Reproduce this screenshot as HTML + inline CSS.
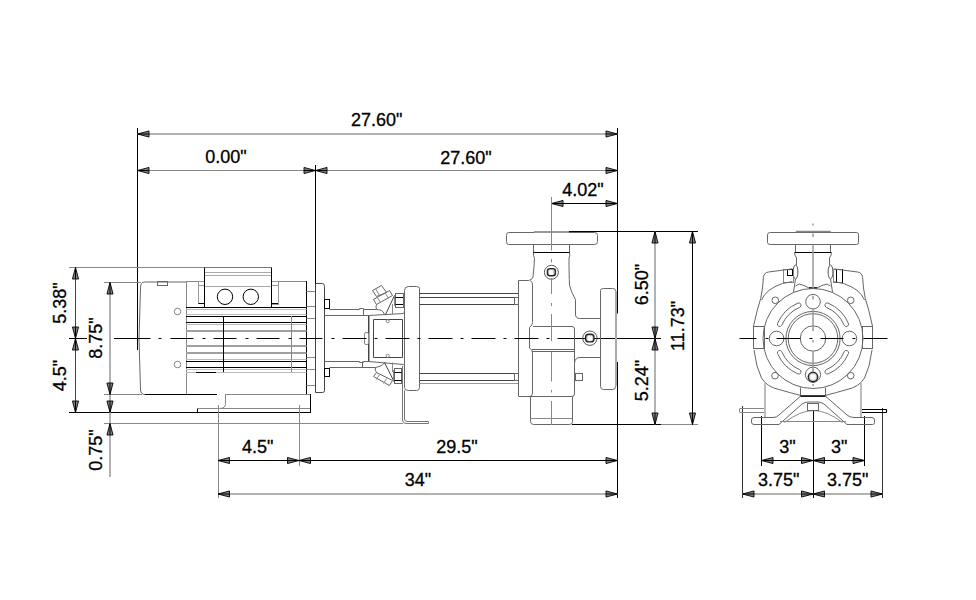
<!DOCTYPE html>
<html><head><meta charset="utf-8"><style>
html,body{margin:0;padding:0;background:#fff;}
svg{display:block;}
text{font-family:"Liberation Sans",sans-serif;font-size:18px;fill:#000;stroke:#000;stroke-width:0.3px;}
</style></head><body>
<svg width="976" height="600" viewBox="0 0 976 600">
<rect x="0" y="0" width="976" height="600" fill="#fff"/>
<line x1="137.5" y1="128" x2="137.5" y2="350" stroke="#000" stroke-width="1" />
<line x1="617.5" y1="128" x2="617.5" y2="313.5" stroke="#000" stroke-width="1" />
<line x1="617.5" y1="362" x2="617.5" y2="498" stroke="#000" stroke-width="1" />
<line x1="315.5" y1="165" x2="315.5" y2="284" stroke="#000" stroke-width="1" />
<line x1="137.5" y1="134" x2="617.5" y2="134" stroke="#b2b2b2" stroke-width="2" />
<polygon points="137.50,134.00 149.00,130.95 149.00,137.05" fill="#808080" stroke="#000" stroke-width="0.9"/>
<line x1="137.5" y1="134" x2="149.00" y2="134.00" stroke="#000" stroke-width="1"/>
<polygon points="617.50,134.00 606.00,130.95 606.00,137.05" fill="#808080" stroke="#000" stroke-width="0.9"/>
<line x1="617.5" y1="134" x2="606.00" y2="134.00" stroke="#000" stroke-width="1"/>
<text x="376.7" y="126" text-anchor="middle">27.60&quot;</text>
<line x1="137.5" y1="170.5" x2="617.5" y2="170.5" stroke="#888" stroke-width="1" />
<polygon points="137.50,170.50 149.00,167.45 149.00,173.55" fill="#808080" stroke="#000" stroke-width="0.9"/>
<line x1="137.5" y1="170.5" x2="149.00" y2="170.50" stroke="#000" stroke-width="1"/>
<polygon points="315.50,170.50 304.00,167.45 304.00,173.55" fill="#808080" stroke="#000" stroke-width="0.9"/>
<line x1="315.5" y1="170.5" x2="304.00" y2="170.50" stroke="#000" stroke-width="1"/>
<polygon points="315.50,170.50 327.00,167.45 327.00,173.55" fill="#808080" stroke="#000" stroke-width="0.9"/>
<line x1="315.5" y1="170.5" x2="327.00" y2="170.50" stroke="#000" stroke-width="1"/>
<polygon points="617.50,170.50 606.00,167.45 606.00,173.55" fill="#808080" stroke="#000" stroke-width="0.9"/>
<line x1="617.5" y1="170.5" x2="606.00" y2="170.50" stroke="#000" stroke-width="1"/>
<text x="226" y="163" text-anchor="middle">0.00&quot;</text>
<text x="466" y="163.5" text-anchor="middle">27.60&quot;</text>
<line x1="551.5" y1="203.5" x2="617.5" y2="203.5" stroke="#000" stroke-width="1" />
<polygon points="551.50,203.50 563.00,200.45 563.00,206.55" fill="#808080" stroke="#000" stroke-width="0.9"/>
<line x1="551.5" y1="203.5" x2="563.00" y2="203.50" stroke="#000" stroke-width="1"/>
<polygon points="617.50,203.50 606.00,200.45 606.00,206.55" fill="#808080" stroke="#000" stroke-width="0.9"/>
<line x1="617.5" y1="203.5" x2="606.00" y2="203.50" stroke="#000" stroke-width="1"/>
<text x="583" y="196" text-anchor="middle">4.02&quot;</text>
<line x1="69" y1="267.5" x2="205" y2="267.5" stroke="#888" stroke-width="1" />
<line x1="104" y1="282.5" x2="141" y2="282.5" stroke="#888" stroke-width="1" />
<line x1="69" y1="338.5" x2="87" y2="338.5" stroke="#000" stroke-width="1" />
<line x1="104" y1="394.5" x2="142" y2="394.5" stroke="#888" stroke-width="1" />
<line x1="69" y1="412.5" x2="311" y2="412.5" stroke="#000" stroke-width="1" />
<line x1="104" y1="423.5" x2="403" y2="423.5" stroke="#888" stroke-width="1" />
<line x1="75.5" y1="267.5" x2="75.5" y2="412.5" stroke="#444" stroke-width="1" />
<polygon points="75.50,267.50 72.45,279.00 78.55,279.00" fill="#808080" stroke="#000" stroke-width="0.9"/>
<line x1="75.5" y1="267.5" x2="75.50" y2="279.00" stroke="#000" stroke-width="1"/>
<polygon points="75.50,338.50 72.45,327.00 78.55,327.00" fill="#808080" stroke="#000" stroke-width="0.9"/>
<line x1="75.5" y1="338.5" x2="75.50" y2="327.00" stroke="#000" stroke-width="1"/>
<polygon points="75.50,338.50 72.45,350.00 78.55,350.00" fill="#808080" stroke="#000" stroke-width="0.9"/>
<line x1="75.5" y1="338.5" x2="75.50" y2="350.00" stroke="#000" stroke-width="1"/>
<polygon points="75.50,412.50 72.45,401.00 78.55,401.00" fill="#808080" stroke="#000" stroke-width="0.9"/>
<line x1="75.5" y1="412.5" x2="75.50" y2="401.00" stroke="#000" stroke-width="1"/>
<line x1="110" y1="282.5" x2="110" y2="477" stroke="#b2b2b2" stroke-width="2" />
<polygon points="110.00,282.50 106.95,294.00 113.05,294.00" fill="#808080" stroke="#000" stroke-width="0.9"/>
<line x1="110" y1="282.5" x2="110.00" y2="294.00" stroke="#000" stroke-width="1"/>
<polygon points="110.00,394.50 106.95,383.00 113.05,383.00" fill="#808080" stroke="#000" stroke-width="0.9"/>
<line x1="110" y1="394.5" x2="110.00" y2="383.00" stroke="#000" stroke-width="1"/>
<polygon points="110.00,412.50 106.95,401.00 113.05,401.00" fill="#808080" stroke="#000" stroke-width="0.9"/>
<line x1="110" y1="412.5" x2="110.00" y2="401.00" stroke="#000" stroke-width="1"/>
<polygon points="110.00,423.50 106.95,435.00 113.05,435.00" fill="#808080" stroke="#000" stroke-width="0.9"/>
<line x1="110" y1="423.5" x2="110.00" y2="435.00" stroke="#000" stroke-width="1"/>
<text x="0" y="0" transform="translate(65.6,303) rotate(-90)" text-anchor="middle">5.38&quot;</text>
<text x="0" y="0" transform="translate(65.6,375.5) rotate(-90)" text-anchor="middle">4.5&quot;</text>
<text x="0" y="0" transform="translate(102.4,338) rotate(-90)" text-anchor="middle">8.75&quot;</text>
<text x="0" y="0" transform="translate(102.4,450) rotate(-90)" text-anchor="middle">0.75&quot;</text>
<line x1="218.5" y1="405" x2="218.5" y2="498" stroke="#888" stroke-width="1" />
<line x1="299.5" y1="405" x2="299.5" y2="466" stroke="#888" stroke-width="1" />
<line x1="218" y1="460.5" x2="617.5" y2="460.5" stroke="#000" stroke-width="1" />
<polygon points="218.00,460.50 229.50,457.45 229.50,463.55" fill="#808080" stroke="#000" stroke-width="0.9"/>
<line x1="218" y1="460.5" x2="229.50" y2="460.50" stroke="#000" stroke-width="1"/>
<polygon points="299.00,460.50 287.50,457.45 287.50,463.55" fill="#808080" stroke="#000" stroke-width="0.9"/>
<line x1="299" y1="460.5" x2="287.50" y2="460.50" stroke="#000" stroke-width="1"/>
<polygon points="299.00,460.50 310.50,457.45 310.50,463.55" fill="#808080" stroke="#000" stroke-width="0.9"/>
<line x1="299" y1="460.5" x2="310.50" y2="460.50" stroke="#000" stroke-width="1"/>
<polygon points="617.50,460.50 606.00,457.45 606.00,463.55" fill="#808080" stroke="#000" stroke-width="0.9"/>
<line x1="617.5" y1="460.5" x2="606.00" y2="460.50" stroke="#000" stroke-width="1"/>
<line x1="218" y1="494" x2="617.5" y2="494" stroke="#b2b2b2" stroke-width="2" />
<polygon points="218.00,494.00 229.50,490.95 229.50,497.05" fill="#808080" stroke="#000" stroke-width="0.9"/>
<line x1="218" y1="494" x2="229.50" y2="494.00" stroke="#000" stroke-width="1"/>
<polygon points="617.50,494.00 606.00,490.95 606.00,497.05" fill="#808080" stroke="#000" stroke-width="0.9"/>
<line x1="617.5" y1="494" x2="606.00" y2="494.00" stroke="#000" stroke-width="1"/>
<text x="257.8" y="453.2" text-anchor="middle">4.5&quot;</text>
<text x="457" y="452.6" text-anchor="middle">29.5&quot;</text>
<text x="418" y="485.6" text-anchor="middle">34&quot;</text>
<line x1="534" y1="231.5" x2="698" y2="231.5" stroke="#000" stroke-width="1" />
<line x1="558" y1="338.5" x2="661" y2="338.5" stroke="#000" stroke-width="1" />
<line x1="572" y1="424.5" x2="661" y2="424.5" stroke="#000" stroke-width="1" />
<line x1="661" y1="424.5" x2="698" y2="424.5" stroke="#888" stroke-width="1" />
<line x1="655" y1="231.5" x2="655" y2="424.5" stroke="#b2b2b2" stroke-width="2" />
<polygon points="655.00,231.50 651.95,243.00 658.05,243.00" fill="#808080" stroke="#000" stroke-width="0.9"/>
<line x1="655" y1="231.5" x2="655.00" y2="243.00" stroke="#000" stroke-width="1"/>
<polygon points="655.00,338.50 651.95,327.00 658.05,327.00" fill="#808080" stroke="#000" stroke-width="0.9"/>
<line x1="655" y1="338.5" x2="655.00" y2="327.00" stroke="#000" stroke-width="1"/>
<polygon points="655.00,338.50 651.95,350.00 658.05,350.00" fill="#808080" stroke="#000" stroke-width="0.9"/>
<line x1="655" y1="338.5" x2="655.00" y2="350.00" stroke="#000" stroke-width="1"/>
<polygon points="655.00,424.50 651.95,413.00 658.05,413.00" fill="#808080" stroke="#000" stroke-width="0.9"/>
<line x1="655" y1="424.5" x2="655.00" y2="413.00" stroke="#000" stroke-width="1"/>
<line x1="692.5" y1="231.5" x2="692.5" y2="424.5" stroke="#000" stroke-width="1" />
<polygon points="692.50,231.50 689.45,243.00 695.55,243.00" fill="#808080" stroke="#000" stroke-width="0.9"/>
<line x1="692.5" y1="231.5" x2="692.50" y2="243.00" stroke="#000" stroke-width="1"/>
<polygon points="692.50,424.50 689.45,413.00 695.55,413.00" fill="#808080" stroke="#000" stroke-width="0.9"/>
<line x1="692.5" y1="424.5" x2="692.50" y2="413.00" stroke="#000" stroke-width="1"/>
<text x="0" y="0" transform="translate(647.5,284.5) rotate(-90)" text-anchor="middle">6.50&quot;</text>
<text x="0" y="0" transform="translate(647.5,380.5) rotate(-90)" text-anchor="middle">5.24&quot;</text>
<text x="0" y="0" transform="translate(684,326) rotate(-90)" text-anchor="middle">11.73&quot;</text>
<line x1="742.5" y1="406" x2="742.5" y2="498" stroke="#333" stroke-width="1" />
<line x1="761.5" y1="416" x2="761.5" y2="466" stroke="#000" stroke-width="1" />
<line x1="813.5" y1="410.5" x2="813.5" y2="498" stroke="#000" stroke-width="1" />
<line x1="864.5" y1="416" x2="864.5" y2="466" stroke="#000" stroke-width="1" />
<line x1="882.5" y1="408" x2="882.5" y2="498" stroke="#333" stroke-width="1" />
<line x1="761.5" y1="460.5" x2="864.5" y2="460.5" stroke="#000" stroke-width="1" />
<polygon points="761.50,460.50 773.00,457.45 773.00,463.55" fill="#808080" stroke="#000" stroke-width="0.9"/>
<line x1="761.5" y1="460.5" x2="773.00" y2="460.50" stroke="#000" stroke-width="1"/>
<polygon points="813.00,460.50 801.50,457.45 801.50,463.55" fill="#808080" stroke="#000" stroke-width="0.9"/>
<line x1="813" y1="460.5" x2="801.50" y2="460.50" stroke="#000" stroke-width="1"/>
<polygon points="813.00,460.50 824.50,457.45 824.50,463.55" fill="#808080" stroke="#000" stroke-width="0.9"/>
<line x1="813" y1="460.5" x2="824.50" y2="460.50" stroke="#000" stroke-width="1"/>
<polygon points="864.50,460.50 853.00,457.45 853.00,463.55" fill="#808080" stroke="#000" stroke-width="0.9"/>
<line x1="864.5" y1="460.5" x2="853.00" y2="460.50" stroke="#000" stroke-width="1"/>
<line x1="742.5" y1="494" x2="882.5" y2="494" stroke="#b2b2b2" stroke-width="2" />
<polygon points="742.50,494.00 754.00,490.95 754.00,497.05" fill="#808080" stroke="#000" stroke-width="0.9"/>
<line x1="742.5" y1="494" x2="754.00" y2="494.00" stroke="#000" stroke-width="1"/>
<polygon points="813.00,494.00 801.50,490.95 801.50,497.05" fill="#808080" stroke="#000" stroke-width="0.9"/>
<line x1="813" y1="494" x2="801.50" y2="494.00" stroke="#000" stroke-width="1"/>
<polygon points="813.00,494.00 824.50,490.95 824.50,497.05" fill="#808080" stroke="#000" stroke-width="0.9"/>
<line x1="813" y1="494" x2="824.50" y2="494.00" stroke="#000" stroke-width="1"/>
<polygon points="882.50,494.00 871.00,490.95 871.00,497.05" fill="#808080" stroke="#000" stroke-width="0.9"/>
<line x1="882.5" y1="494" x2="871.00" y2="494.00" stroke="#000" stroke-width="1"/>
<text x="787.5" y="452.8" text-anchor="middle">3&quot;</text>
<text x="839.2" y="452.8" text-anchor="middle">3&quot;</text>
<text x="778.7" y="485.9" text-anchor="middle">3.75&quot;</text>
<text x="847.6" y="485.9" text-anchor="middle">3.75&quot;</text>
<path d="M186 282 H144.5 Q140.5 282 140.5 288 Q137.5 338 140.5 390 Q141 394.5 145 394.5" stroke="#666" stroke-width="1" fill="none" />
<line x1="145" y1="394.5" x2="186" y2="394.5" stroke="#000" stroke-width="1" />
<rect x="157.5" y="281.5" width="10.0" height="4.0" rx="0" stroke="#666" stroke-width="1" fill="none"/>
<circle cx="177.5" cy="311.5" r="3.3" stroke="#888" stroke-width="1" fill="none"/>
<circle cx="177.5" cy="364.5" r="3.3" stroke="#888" stroke-width="1" fill="none"/>
<line x1="186.5" y1="282" x2="186.5" y2="394" stroke="#888" stroke-width="1" />
<line x1="186" y1="281.5" x2="204.5" y2="281.5" stroke="#888" stroke-width="1" />
<line x1="271.5" y1="281.5" x2="306.5" y2="281.5" stroke="#888" stroke-width="1" />
<line x1="306.5" y1="281" x2="306.5" y2="394" stroke="#000" stroke-width="1" />
<line x1="186" y1="394.5" x2="217" y2="394.5" stroke="#000" stroke-width="1" />
<line x1="225" y1="394.5" x2="310.5" y2="394.5" stroke="#888" stroke-width="1" />
<line x1="205" y1="272.5" x2="271" y2="272.5" stroke="#aaa" stroke-width="1" />
<line x1="205" y1="275.5" x2="271" y2="275.5" stroke="#aaa" stroke-width="1" />
<line x1="205" y1="286.5" x2="271" y2="286.5" stroke="#aaa" stroke-width="1" />
<rect x="198.5" y="281.5" width="6.0" height="22.0" rx="0" stroke="#999" stroke-width="1" fill="none"/>
<line x1="198.5" y1="303.5" x2="204.5" y2="303.5" stroke="#000" stroke-width="1" />
<rect x="198.5" y="281.5" width="6.0" height="4.0" rx="0" stroke="#999" stroke-width="1" fill="none"/>
<rect x="271.5" y="281.5" width="7.0" height="23.0" rx="0" stroke="#999" stroke-width="1" fill="none"/>
<line x1="271.5" y1="303.5" x2="278" y2="303.5" stroke="#000" stroke-width="1" />
<rect x="271.5" y="281.5" width="7.0" height="4.0" rx="0" stroke="#999" stroke-width="1" fill="none"/>
<line x1="204.5" y1="267.5" x2="271.5" y2="267.5" stroke="#777" stroke-width="1" />
<line x1="204.5" y1="267.5" x2="204.5" y2="307.5" stroke="#000" stroke-width="1" />
<line x1="271.5" y1="267.5" x2="271.5" y2="307.5" stroke="#000" stroke-width="1" />
<line x1="204.5" y1="307.5" x2="271.5" y2="307.5" stroke="#000" stroke-width="1" />
<circle cx="225" cy="296.8" r="7.7" stroke="#000" stroke-width="1" fill="none"/>
<circle cx="250.8" cy="296.8" r="7.7" stroke="#000" stroke-width="1" fill="none"/>
<line x1="186" y1="307.5" x2="306.5" y2="307.5" stroke="#000" stroke-width="1" />
<line x1="186" y1="316.5" x2="306.5" y2="316.5" stroke="#000" stroke-width="1" />
<line x1="186" y1="322.5" x2="306.5" y2="322.5" stroke="#000" stroke-width="1" />
<line x1="186" y1="361.5" x2="306.5" y2="361.5" stroke="#000" stroke-width="1" />
<line x1="186" y1="367.5" x2="306.5" y2="367.5" stroke="#000" stroke-width="1" />
<line x1="186" y1="309.5" x2="306.5" y2="309.5" stroke="#bbb" stroke-width="1" />
<line x1="186" y1="314.5" x2="306.5" y2="314.5" stroke="#bbb" stroke-width="1" />
<line x1="186" y1="324.5" x2="306.5" y2="324.5" stroke="#bbb" stroke-width="1" />
<line x1="186" y1="359.5" x2="306.5" y2="359.5" stroke="#bbb" stroke-width="1" />
<line x1="186" y1="369.5" x2="306.5" y2="369.5" stroke="#bbb" stroke-width="1" />
<line x1="186" y1="372.5" x2="306.5" y2="372.5" stroke="#bbb" stroke-width="1" />
<line x1="186" y1="331" x2="306.5" y2="331" stroke="#a0a0a0" stroke-width="2" />
<line x1="186" y1="346" x2="306.5" y2="346" stroke="#a0a0a0" stroke-width="2" />
<line x1="186" y1="353" x2="306.5" y2="353" stroke="#a0a0a0" stroke-width="2" />
<line x1="196" y1="372.5" x2="216" y2="372.5" stroke="#000" stroke-width="1" />
<line x1="223.5" y1="316" x2="223.5" y2="372" stroke="#000" stroke-width="1" />
<line x1="291.5" y1="316" x2="291.5" y2="372" stroke="#888" stroke-width="1" />
<line x1="306.5" y1="291.5" x2="315.5" y2="291.5" stroke="#888" stroke-width="1" />
<line x1="306.5" y1="306.5" x2="315.5" y2="306.5" stroke="#888" stroke-width="1" />
<line x1="306.5" y1="318.5" x2="315.5" y2="318.5" stroke="#888" stroke-width="1" />
<line x1="306.5" y1="357.5" x2="315.5" y2="357.5" stroke="#888" stroke-width="1" />
<line x1="306.5" y1="369.5" x2="315.5" y2="369.5" stroke="#888" stroke-width="1" />
<line x1="306.5" y1="385.5" x2="315.5" y2="385.5" stroke="#888" stroke-width="1" />
<path d="M315.5 283.5 H322.5 Q324.5 283.5 324.5 286.5 V390.5 Q324.5 392.5 322.5 392.5 H315.5 Z" stroke="#444" stroke-width="1" fill="none" />
<rect x="324.5" y="299.5" width="5.0" height="9.0" rx="0" stroke="#000" stroke-width="1" fill="none"/>
<rect x="324.5" y="368.5" width="5.0" height="8.0" rx="0" stroke="#000" stroke-width="1" fill="none"/>
<path d="M225.5 394.5 V403.5 Q225.5 408.5 219.5 408.5 H310.5" stroke="#888" stroke-width="1" fill="none" />
<path d="M197.5 408.5 V412.5" stroke="#000" stroke-width="1" fill="none" />
<line x1="197.5" y1="408.5" x2="219.5" y2="408.5" stroke="#888" stroke-width="1" />
<line x1="310.5" y1="394" x2="310.5" y2="412.5" stroke="#000" stroke-width="1" />
<path d="M329.5 309.5 H359.5 V308.5 H363.5 V309.5 H376.5 Q379.5 309.5 381.5 310.5 Q383.5 311.5 384.5 314.5" stroke="#666" stroke-width="1" fill="none" />
<path d="M324.5 315.5 H368.5 L403.5 313.5 Q404.5 312.5 404.5 310.5" stroke="#666" stroke-width="1" fill="none" />
<line x1="363.5" y1="309.5" x2="363.5" y2="315.5" stroke="#666" stroke-width="1" />
<path d="M324.5 361.5 H359.5 V362.5 H363.5 V361.5 H368.5 L403.5 364.5 Q404.5 364.5 404.5 366.5" stroke="#666" stroke-width="1" fill="none" />
<path d="M329.5 367.5 H375.5 Q379.5 366.5 381.5 365.5 Q383.5 364.5 384.5 362.5" stroke="#666" stroke-width="1" fill="none" />
<line x1="362.5" y1="361.5" x2="362.5" y2="367.5" stroke="#666" stroke-width="1" />
<line x1="368.5" y1="315.5" x2="368.5" y2="361.5" stroke="#444" stroke-width="1" />
<line x1="369.5" y1="316" x2="369.5" y2="361" stroke="#aaa" stroke-width="1" />
<path d="M373.5 357.5 V319.5 H402.5 V357.5 Z" stroke="#444" stroke-width="1" fill="none" />
<rect x="364.5" y="332.5" width="4.0" height="12.0" rx="1.5" stroke="#888" stroke-width="1" fill="none"/>
<circle cx="387.7" cy="321.2" r="1.6" stroke="#888" stroke-width="1" fill="none"/>
<circle cx="387.7" cy="355.8" r="1.6" stroke="#888" stroke-width="1" fill="none"/>
<path d="M385.5 314.5 L394.5 295.5" stroke="#444" stroke-width="1" fill="none" />
<line x1="392.5" y1="304" x2="392.5" y2="314" stroke="#888" stroke-width="1" />
<path d="M384.5 362.5 L394.5 382.5" stroke="#444" stroke-width="1" fill="none" />
<line x1="392.5" y1="362.5" x2="392.5" y2="372" stroke="#888" stroke-width="1" />
<path d="M373.5 299.5 L389.5 290.5 L392.5 295.5 L376.5 304.5 Z" stroke="#666" stroke-width="1" fill="none" />
<path d="M377.5 297.5 L380.5 302.5 M385.5 293.5 L388.5 298.5" stroke="#888" stroke-width="1" fill="none" />
<path d="M372.5 290.5 L381.5 285.5 L386.5 292.5 L376.5 296.5 Z" stroke="#666" stroke-width="1" fill="none" />
<path d="M375.5 288.5 L379.5 295.5" stroke="#888" stroke-width="1" fill="none" />
<path d="M376.5 304.5 Q375.5 306.5 376.5 309.5" stroke="#666" stroke-width="1" fill="none" />
<path d="M373.5 376.5 L376.5 372.5 L392.5 380.5 L389.5 385.5 Z" stroke="#666" stroke-width="1" fill="none" />
<path d="M379.5 374.5 L376.5 379.5 M386.5 378.5 L383.5 383.5" stroke="#888" stroke-width="1" fill="none" />
<path d="M375.5 367.5 Q374.5 370.5 376.5 372.5" stroke="#666" stroke-width="1" fill="none" />
<rect x="395.5" y="293.5" width="8.0" height="14.0" rx="0" stroke="#666" stroke-width="1" fill="none"/>
<line x1="395.5" y1="297.5" x2="403" y2="297.5" stroke="#000" stroke-width="1" />
<line x1="395.5" y1="304.5" x2="403" y2="304.5" stroke="#000" stroke-width="1" />
<line x1="394.5" y1="295" x2="394.5" y2="306" stroke="#888" stroke-width="1" />
<rect x="394.5" y="368.5" width="7.0" height="15.0" rx="0" stroke="#666" stroke-width="1" fill="none"/>
<line x1="394.5" y1="372.5" x2="401.5" y2="372.5" stroke="#000" stroke-width="1" />
<line x1="394.5" y1="380.5" x2="401.5" y2="380.5" stroke="#000" stroke-width="1" />
<line x1="393.5" y1="370" x2="393.5" y2="381" stroke="#888" stroke-width="1" />
<path d="M404.5 290.5 Q404.5 286.5 408.5 286.5 H416.5 Q419.5 286.5 419.5 288.5 V387.5 Q419.5 390.5 416.5 390.5 H408.5 Q404.5 390.5 404.5 387.5 Z" stroke="#666" stroke-width="1" fill="none" />
<path d="M402.5 366 V420 Q402.5 423.5 406 423.5 H428.5 V421.5 H407 Q404.5 421.5 404.5 419 V390.5" stroke="#777" stroke-width="1" fill="none" />
<line x1="419.3" y1="293.5" x2="518.5" y2="293.5" stroke="#444" stroke-width="1" />
<line x1="419.3" y1="297.5" x2="518.5" y2="297.5" stroke="#444" stroke-width="1" />
<line x1="419.3" y1="304.5" x2="518.5" y2="304.5" stroke="#444" stroke-width="1" />
<line x1="419.3" y1="373.5" x2="518.5" y2="373.5" stroke="#444" stroke-width="1" />
<line x1="419.3" y1="380.5" x2="518.5" y2="380.5" stroke="#444" stroke-width="1" />
<line x1="419.3" y1="383.5" x2="518.5" y2="383.5" stroke="#999" stroke-width="1" />
<rect x="514.5" y="297.5" width="4.0" height="7.0" rx="0" stroke="#666" stroke-width="1" fill="none"/>
<rect x="514.5" y="373.5" width="4.0" height="7.0" rx="0" stroke="#666" stroke-width="1" fill="none"/>
<path d="M518.5 396 V280.5 H528.5 Q532 280 533 277 Q534 268 534.5 258.5 Q533 255 533.5 252.5" stroke="#666" stroke-width="1" fill="none" />
<path d="M569.5 252.5 Q570.5 255 569 258 Q569 275 569.5 285 Q571 292 575.5 299.5 V314 Q575.5 318.5 579.5 318.5 H600.5" stroke="#666" stroke-width="1" fill="none" />
<line x1="533" y1="252.5" x2="570" y2="252.5" stroke="#000" stroke-width="1" />
<line x1="533.5" y1="244.5" x2="533.5" y2="252.5" stroke="#666" stroke-width="1" />
<line x1="569.5" y1="244.5" x2="569.5" y2="252.5" stroke="#666" stroke-width="1" />
<path d="M508.5 232.5 H594.5 Q597.5 232.5 597.5 235.5 V241.5 Q597.5 244.5 594.5 244.5 H508.5 Q506.5 244.5 506.5 241.5 V235.5 Q506.5 232.5 508.5 232.5 Z" stroke="#666" stroke-width="1" fill="none" />
<line x1="534" y1="232" x2="569" y2="232" stroke="#999" stroke-width="2" />
<path d="M530.5 280.5 Q532.5 282 532.5 285 V322.5 Q532.5 325 529.5 327.5 V348 Q532.5 350 532.5 353 V393 Q532.5 396 530 396.5" stroke="#666" stroke-width="1" fill="none" />
<path d="M533 326.5 H572 Q574.5 326.5 574.5 329 V394 Q574.5 396.5 572 396.5 H518.5" stroke="#666" stroke-width="1" fill="none" />
<line x1="532" y1="349.5" x2="574" y2="349.5" stroke="#666" stroke-width="1" />
<line x1="532" y1="351.5" x2="574" y2="351.5" stroke="#666" stroke-width="1" />
<path d="M574.5 363 Q575 357.5 580 357.5 H600.5" stroke="#666" stroke-width="1" fill="none" />
<path d="M530.5 396.5 V421.5 Q530.5 424.5 533.5 424.5 H569.5 Q572.5 424.5 572.5 421.5 V396.5" stroke="#666" stroke-width="1" fill="none" />
<line x1="530" y1="418.5" x2="572" y2="418.5" stroke="#888" stroke-width="1" />
<path d="M603.5 288.5 H612.5 Q615.5 288.5 615.5 290.5 V386.5 Q615.5 389.5 612.5 389.5 H603.5 Q600.5 389.5 600.5 386.5 V290.5 Q600.5 288.5 603.5 288.5 Z" stroke="#666" stroke-width="1" fill="none" />
<line x1="616" y1="291" x2="616" y2="386" stroke="#aaa" stroke-width="2" />
<circle cx="551.4" cy="272.3" r="7" stroke="#555" stroke-width="1" fill="none"/>
<rect x="547.4" y="268.6" width="8" height="7.2" rx="2.5" stroke="#222" stroke-width="1.4" fill="#ccc"/>
<rect x="549.2" y="270.3" width="3.8" height="4.6" rx="0.5" stroke="none" stroke-width="0" fill="#fff"/>
<circle cx="589.9" cy="338.2" r="7.2" stroke="#555" stroke-width="1" fill="none"/>
<rect x="585.6" y="334.3" width="8.4" height="7.6" rx="3" stroke="#222" stroke-width="1.4" fill="#ccc"/>
<rect x="587.8" y="336" width="4.2" height="4.6" rx="0.5" stroke="none" stroke-width="0" fill="#fff"/>
<rect x="575.5" y="373.5" width="7.0" height="7.0" rx="0" stroke="#666" stroke-width="1" fill="none"/>
<path d="M551.5 197V250.5 M551.5 259V262.5 M551.5 278V294 M551.5 303V306 M551.5 314V341 M551.5 352V381.5 M551.5 390V392.5 M551.5 401V425" stroke="#888" stroke-width="1" fill="none" />
<path d="M115.5 338.5H118.5 M126.5 338.5H150.5 M158.5 338.5H161.5 M170.5 338.5H193.5 M202.5 338.5H205.5 M213.5 338.5H236.5 M245.5 338.5H248.5 M256.5 338.5H279.5 M288.5 338.5H291.5 M299.5 338.5H322.5 M331.5 338.5H334.5 M342.5 338.5H366.5 M374.5 338.5H377.5 M385.5 338.5H409.5 M417.5 338.5H420.5 M428.5 338.5H452.5 M460.5 338.5H463.5 M471.5 338.5H495.5 M503.5 338.5H506.5 M514.5 338.5H538.5 M546.5 338.5H549.5 M557.5 338.5H558.5" stroke="#000" stroke-width="1" fill="none" />
<line x1="114" y1="338.5" x2="149" y2="338.5" stroke="#000" stroke-width="1" />
<path d="M770.5 232.5 H856.5 Q858.5 232.5 858.5 234.5 V242.5 Q858.5 244.5 856.5 244.5 H770.5 Q767.5 244.5 767.5 242.5 V234.5 Q767.5 232.5 770.5 232.5 Z" stroke="#666" stroke-width="1" fill="none" />
<line x1="795.8" y1="231.5" x2="830.8" y2="231.5" stroke="#888" stroke-width="1.5" />
<line x1="795.5" y1="244.5" x2="795.5" y2="252.5" stroke="#666" stroke-width="1" />
<line x1="830.5" y1="244.5" x2="830.5" y2="252.5" stroke="#666" stroke-width="1" />
<line x1="794.5" y1="252.5" x2="831.5" y2="252.5" stroke="#000" stroke-width="1" />
<path d="M794.5 252.5 Q794.5 255 796.5 258 V265" stroke="#666" stroke-width="1" fill="none" />
<path d="M831.5 252.5 Q831.5 255 829.5 258 V265" stroke="#666" stroke-width="1" fill="none" />
<path d="M795.5 279 L793.5 292" stroke="#666" stroke-width="1" fill="none" />
<path d="M830.5 279 L832.5 292" stroke="#666" stroke-width="1" fill="none" />
<ellipse cx="795.5" cy="272" rx="2.4" ry="7" fill="none" stroke="#555"/>
<ellipse cx="830.5" cy="272" rx="2.4" ry="7" fill="none" stroke="#555"/>
<path d="M795.5 286 L799 284 Q804 285 809 288 H817 Q822 285 827 284 L830.5 286" stroke="#666" stroke-width="1" fill="none" />
<line x1="809" y1="288" x2="817" y2="288" stroke="#000" stroke-width="1.5" />
<rect x="783.5" y="269.5" width="10.0" height="13.0" rx="0" stroke="#888" stroke-width="1" fill="none"/>
<rect x="787.5" y="269.5" width="5.0" height="6.0" rx="0" stroke="#000" stroke-width="1" fill="none"/>
<rect x="833.5" y="269.5" width="9.0" height="13.0" rx="0" stroke="#888" stroke-width="1" fill="none"/>
<line x1="836.5" y1="269" x2="836.5" y2="283" stroke="#000" stroke-width="1" />
<line x1="842.5" y1="269" x2="842.5" y2="283" stroke="#000" stroke-width="1" />
<path d="M753.3 327 L757.3 310 Q761.5 298 762.5 288 L763.4 277.5 Q764 272.5 768.5 272 L792.3 268.9" stroke="#666" stroke-width="1" fill="none" />
<path d="M872.7 327 L868.7 310 Q864.5 298 863.5 288 L862.6 277.5 Q862 272.5 857.5 272 L833.7 268.9" stroke="#666" stroke-width="1" fill="none" />
<path d="M761.5 300 Q766 289 782.5 283.5 L792.3 281.6" stroke="#666" stroke-width="1" fill="none" />
<path d="M864.5 300 Q860 289 843.5 283.5 L833.7 281.6" stroke="#666" stroke-width="1" fill="none" />
<circle cx="813" cy="338.5" r="50" stroke="#666" stroke-width="1" fill="none"/>
<circle cx="813" cy="338.5" r="27.1" stroke="#666" stroke-width="1" fill="none"/>
<circle cx="813" cy="338.5" r="24.8" stroke="#666" stroke-width="1" fill="none"/>
<circle cx="813" cy="338.5" r="12.7" stroke="#666" stroke-width="1" fill="none"/>
<circle cx="813" cy="301.7" r="7.3" stroke="#666" stroke-width="1" fill="none"/>
<circle cx="776.6" cy="338.5" r="7.3" stroke="#666" stroke-width="1" fill="none"/>
<circle cx="849.4" cy="338.5" r="7.3" stroke="#666" stroke-width="1" fill="none"/>
<circle cx="813" cy="374.7" r="7.6" stroke="#666" stroke-width="1" fill="none"/>
<circle cx="813" cy="377.0" r="4.7" stroke="#222" stroke-width="1.4" fill="#ccc"/>
<rect x="810.5" y="374.5" width="5.0" height="5.0" rx="0" stroke="none" stroke-width="0" fill="#fff"/>
<circle cx="775.3" cy="300.3" r="3.3" stroke="#666" stroke-width="1" fill="none"/>
<circle cx="850.7" cy="300.3" r="3.3" stroke="#666" stroke-width="1" fill="none"/>
<circle cx="775" cy="375.7" r="3.3" stroke="#666" stroke-width="1" fill="none"/>
<circle cx="850.7" cy="375.7" r="3.3" stroke="#666" stroke-width="1" fill="none"/>
<path d="M777.56 323.46 A38.5 38.5 0 0 1 797.96 303.06 A2.3 2.3 0 0 1 799.75 307.29 A33.900000000000006 33.900000000000006 0 0 0 781.79 325.25 A2.3 2.3 0 0 1 777.56 323.46 Z" stroke="#666" stroke-width="1" fill="none" />
<path d="M828.04 303.06 A38.5 38.5 0 0 1 848.44 323.46 A2.3 2.3 0 0 1 844.21 325.25 A33.900000000000006 33.900000000000006 0 0 0 826.25 307.29 A2.3 2.3 0 0 1 828.04 303.06 Z" stroke="#666" stroke-width="1" fill="none" />
<path d="M848.44 353.54 A38.5 38.5 0 0 1 828.04 373.94 A2.3 2.3 0 0 1 826.25 369.71 A33.900000000000006 33.900000000000006 0 0 0 844.21 351.75 A2.3 2.3 0 0 1 848.44 353.54 Z" stroke="#666" stroke-width="1" fill="none" />
<path d="M797.96 373.94 A38.5 38.5 0 0 1 777.56 353.54 A2.3 2.3 0 0 1 781.79 351.75 A33.900000000000006 33.900000000000006 0 0 0 799.75 369.71 A2.3 2.3 0 0 1 797.96 373.94 Z" stroke="#666" stroke-width="1" fill="none" />
<rect x="753.5" y="326.5" width="11.0" height="22.0" rx="0" stroke="#666" stroke-width="1" fill="none"/>
<rect x="862.5" y="326.5" width="10.0" height="22.0" rx="0" stroke="#666" stroke-width="1" fill="none"/>
<path d="M754 350 L757 366 L761.5 378 Q767 387 779 389.5 Q791 393 801 395.5" stroke="#666" stroke-width="1" fill="none" />
<path d="M872 350 L869 366 L864.5 378 Q859 387 847 389.5 Q835 393 825 395.5" stroke="#666" stroke-width="1" fill="none" />
<path d="M800.5 387.5 V396.5 H825.5 V387.5" stroke="#666" stroke-width="1" fill="none" />
<line x1="800.5" y1="396" x2="825.3" y2="396" stroke="#000" stroke-width="1.5" />
<path d="M800.7 396 L779 415 Q777 417.5 773 417.5 H754 Q751.5 417.5 751.5 420 V422 Q751.5 424.5 754 424.5 H779 L802 404 Q805 402 808 402 H818 Q821 402 824 404 L847 424.5 H872.5 Q874.5 424.5 874.5 422.5 V420 Q874.5 417.5 872 417.5 H854 Q850 417.5 847 415 L825.3 396" stroke="#666" stroke-width="1" fill="none" />
<path d="M784.5 422.5 Q800.5 410.5 813.5 410.5 Q826.5 410.5 842.5 422.5" stroke="#888" stroke-width="1" fill="none" />
<line x1="780" y1="421.5" x2="846" y2="421.5" stroke="#888" stroke-width="1" />
<rect x="807.5" y="403.5" width="11.0" height="7.0" rx="0" stroke="#666" stroke-width="1" fill="none"/>
<rect x="739.5" y="408.5" width="26.0" height="4.0" rx="0.5" stroke="#888" stroke-width="1" fill="none"/>
<rect x="861.5" y="409.5" width="25.0" height="3.0" rx="0.5" stroke="#000" stroke-width="1.2" fill="none"/>
<line x1="765" y1="383" x2="765" y2="417" stroke="#bbb" stroke-width="2" />
<line x1="861" y1="383" x2="861" y2="417" stroke="#bbb" stroke-width="2" />
<path d="M739.5 338.5H756.5 M765.5 338.5H768.5 M776.5 338.5H800.5 M809.5 338.5H812.5 M820.5 338.5H843.5 M852.5 338.5H855.5 M863.5 338.5H887.5" stroke="#000" stroke-width="1" fill="none" />
<path d="M813 223.5V225.5 M813 233.5V237 M813 244.5V288 M813 296V299.5 M813 308V331 M813 340V342.5 M813 351V372 M813 384V386" stroke="#999" stroke-width="1.5" fill="none" />
</svg>
</body></html>
